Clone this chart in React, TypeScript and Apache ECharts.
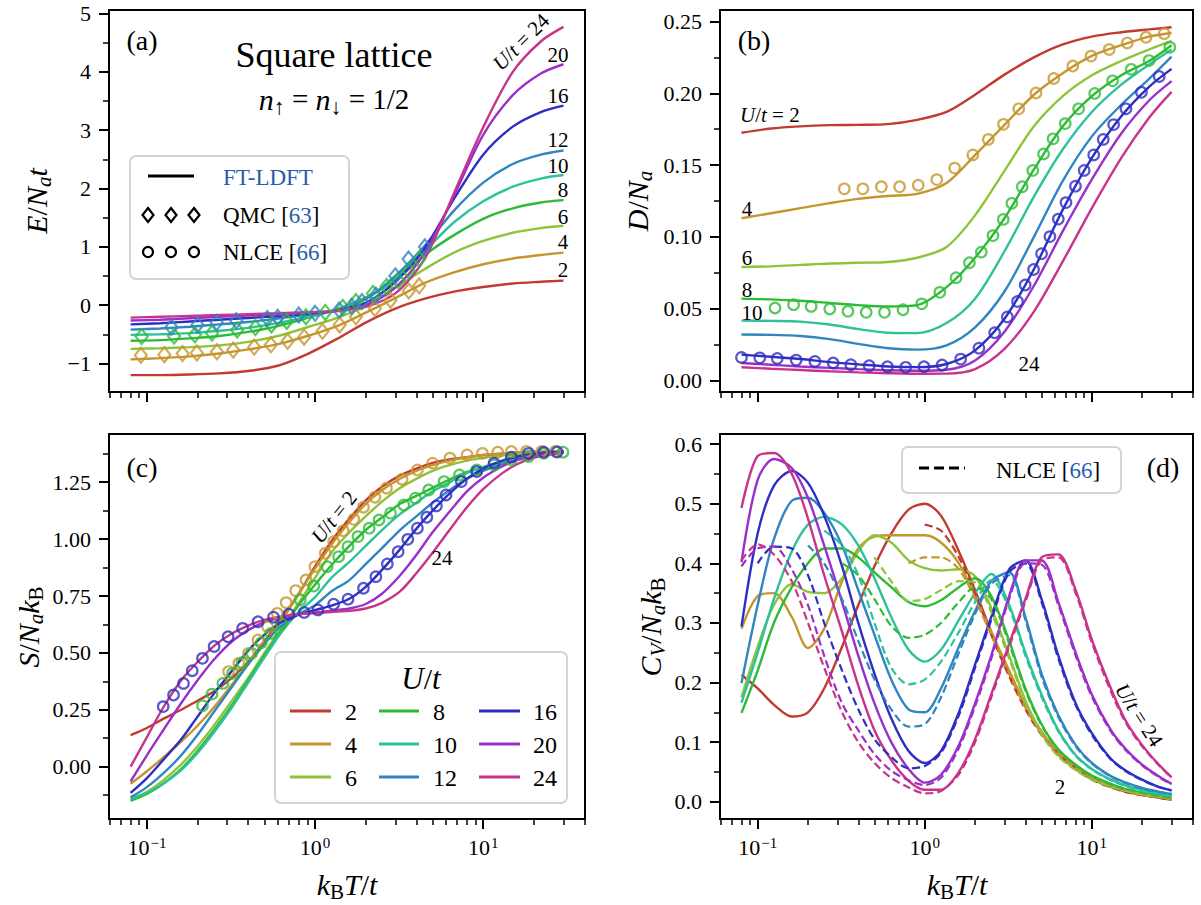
import React, { useEffect, useRef } from 'react';
import * as echarts from 'echarts';

const FONT = "'Liberation Serif', 'DejaVu Serif', serif";
const BLUE_TXT = '#2a5ca8';

// ---------- categories / colours ----------
const U_VALUES = [2, 4, 6, 8, 10, 12, 16, 20, 24];
const COLORS = ['#c23a30', '#c5962e', '#8dc43a', '#2dbb36', '#2dc29b', '#2f86c0', '#2e2ec2', '#9b30c8', '#c8348a'];

// ---------- temperature grids (k_B T / t) ----------
const T_AB = [0.08, 0.12, 0.18, 0.27, 0.4, 0.6, 0.9, 1.35, 2, 3, 4.5, 6.7, 10, 15, 22, 30];
const T_CD = [0.08, 0.1, 0.125, 0.16, 0.2, 0.25, 0.32, 0.4, 0.5, 0.63, 0.8, 1.0, 1.25, 1.6, 2.0, 2.5, 3.2, 4.0, 5.0, 6.3, 8.0, 10, 13, 16, 20, 25, 30];

// ---------- ticks ----------
const X_MAJOR_T = [0.1, 1, 10];
const X_MINOR_T = [0.06, 0.07, 0.08, 0.09, 0.2, 0.3, 0.4, 0.5, 0.6, 0.7, 0.8, 0.9, 2, 3, 4, 5, 6, 7, 8, 9, 20, 30, 40];
const X_RANGE_T = [0.0595, 40.3];
const YA_MAJOR = [-1, 0, 1, 2, 3, 4, 5];
const YA_MINOR = [-0.5, 0.5, 1.5, 2.5, 3.5, 4.5];
const YB_MAJOR = [0, 0.05, 0.1, 0.15, 0.2, 0.25];
const YB_MINOR = [0.025, 0.075, 0.125, 0.175, 0.225];
const YC_MAJOR = [0, 0.25, 0.5, 0.75, 1, 1.25];
const YC_MINOR = [-0.125, 0.125, 0.375, 0.625, 0.875, 1.125, 1.375];
const YD_MAJOR = [0, 0.1, 0.2, 0.3, 0.4, 0.5, 0.6];
const YD_MINOR = [0.05, 0.15, 0.25, 0.35, 0.45, 0.55];
const Y_RANGES = [[-1.49, 5.06], [-0.008, 0.258], [-0.23, 1.462], [-0.029, 0.617]];

// ---------- (a) energy, FT-LDFT ----------
const E_U2 = [-1.20, -1.20, -1.19, -1.17, -1.13, -1.04, -0.84, -0.58, -0.30, -0.06, 0.11, 0.23, 0.31, 0.37, 0.40, 0.42];
const E_U4 = [-0.93, -0.91, -0.88, -0.83, -0.76, -0.67, -0.53, -0.36, -0.13, 0.12, 0.38, 0.56, 0.70, 0.80, 0.86, 0.90];
const E_U6 = [-0.75, -0.74, -0.72, -0.69, -0.63, -0.53, -0.38, -0.22, -0.02, 0.30, 0.62, 0.90, 1.10, 1.24, 1.32, 1.36];
const E_U8 = [-0.61, -0.60, -0.57, -0.53, -0.46, -0.36, -0.22, -0.07, 0.13, 0.42, 0.86, 1.20, 1.48, 1.66, 1.76, 1.80];
const E_U10 = [-0.51, -0.50, -0.48, -0.44, -0.39, -0.31, -0.20, -0.08, 0.11, 0.46, 0.93, 1.42, 1.78, 2.03, 2.17, 2.23];
const E_U12 = [-0.42, -0.40, -0.37, -0.33, -0.29, -0.23, -0.165, -0.09, 0.10, 0.50, 1.02, 1.62, 2.10, 2.42, 2.58, 2.65];
const E_U16 = [-0.33, -0.31, -0.28, -0.25, -0.22, -0.19, -0.15, -0.09, 0.04, 0.40, 0.98, 1.82, 2.58, 3.06, 3.31, 3.42];
const E_U20 = [-0.265, -0.25, -0.225, -0.20, -0.18, -0.16, -0.13, -0.10, 0.0, 0.30, 0.90, 1.88, 2.92, 3.60, 3.97, 4.13];
const E_U24 = [-0.215, -0.20, -0.185, -0.17, -0.155, -0.14, -0.12, -0.10, -0.03, 0.20, 0.80, 1.92, 3.05, 4.00, 4.52, 4.77];
// (a) QMC [63]
const QMC_U4_T = [0.092, 0.127, 0.163, 0.198, 0.261, 0.326, 0.435, 0.546, 0.687, 0.861, 1.107, 1.40, 1.75, 2.27, 2.81, 3.61, 4.16];
const QMC_U4_E = [-0.86, -0.85, -0.83, -0.82, -0.80, -0.77, -0.72, -0.68, -0.62, -0.55, -0.45, -0.34, -0.20, -0.06, 0.085, 0.24, 0.33];
const QMC_U8_T = [0.093, 0.145, 0.193, 0.244, 0.344, 0.442, 0.551, 0.679, 0.883, 1.15, 1.46, 1.75, 2.21, 2.66, 3.12, 3.61, 4.16];
const QMC_U8_E = [-0.54, -0.53, -0.51, -0.48, -0.425, -0.385, -0.34, -0.28, -0.20, -0.125, -0.04, 0.06, 0.20, 0.32, 0.42, 0.59, 0.79];
const QMC_U12_T = [0.14, 0.2, 0.26, 0.34, 0.52, 0.6, 0.8, 1.0, 1.39, 1.65, 1.9, 2.3, 3.0, 3.6, 4.5];
const QMC_U12_E = [-0.38, -0.34, -0.30, -0.27, -0.23, -0.21, -0.17, -0.14, -0.085, -0.02, 0.06, 0.17, 0.50, 0.79, 1.0];

// ---------- (b) double occupancy ----------
const D_U2 = [0.1725, 0.1755, 0.177, 0.1778, 0.178, 0.1785, 0.1815, 0.187, 0.199, 0.213, 0.225, 0.234, 0.2395, 0.2425, 0.2445, 0.246];
const D_U4 = [0.113, 0.1165, 0.120, 0.1235, 0.1265, 0.1285, 0.130, 0.1375, 0.157, 0.178, 0.199, 0.214, 0.226, 0.2335, 0.2395, 0.242];
const D_U6 = [0.079, 0.0795, 0.0805, 0.0815, 0.082, 0.0825, 0.0855, 0.093, 0.115, 0.146, 0.177, 0.198, 0.2125, 0.2225, 0.2305, 0.2365];
const D_U8 = [0.057, 0.0565, 0.0555, 0.054, 0.0525, 0.0515, 0.0525, 0.065, 0.0855, 0.113, 0.147, 0.177, 0.198, 0.2125, 0.2225, 0.2335];
const D_U10 = [0.0417, 0.0415, 0.041, 0.039, 0.0358, 0.0333, 0.033, 0.040, 0.057, 0.090, 0.128, 0.161, 0.187, 0.206, 0.220, 0.2305];
const D_U12 = [0.032, 0.0318, 0.031, 0.0288, 0.0255, 0.0225, 0.0215, 0.0245, 0.037, 0.062, 0.100, 0.139, 0.170, 0.192, 0.210, 0.2255];
const D_U16 = [0.018, 0.0165, 0.015, 0.0128, 0.0112, 0.0098, 0.0093, 0.0115, 0.021, 0.043, 0.0775, 0.119, 0.155, 0.184, 0.2045, 0.217];
const D_U20 = [0.0122, 0.011, 0.0098, 0.0088, 0.0079, 0.0071, 0.0068, 0.0075, 0.014, 0.034, 0.066, 0.104, 0.140, 0.172, 0.195, 0.2085];
const D_U24 = [0.0092, 0.0082, 0.0073, 0.0064, 0.0057, 0.0051, 0.0047, 0.0048, 0.008, 0.022, 0.048, 0.083, 0.120, 0.155, 0.183, 0.201];
// (b) NLCE [66]
const NB_U4_T = [0.330, 0.426, 0.550, 0.707, 0.914, 1.18, 1.51, 1.94, 2.40, 2.96, 3.65, 4.63, 5.92, 7.69, 9.89, 12.7, 16.3, 21.1, 27.1];
const NB_U4_D = [0.1335, 0.1335, 0.1349, 0.1349, 0.136, 0.1399, 0.1479, 0.1571, 0.1679, 0.1784, 0.1892, 0.2002, 0.2103, 0.219, 0.2259, 0.2305, 0.2351, 0.239, 0.2415];
const NB_U8_T = [0.127, 0.164, 0.209, 0.270, 0.347, 0.446, 0.574, 0.741, 0.959, 1.23, 1.54, 1.85, 2.18, 2.56, 2.95, 3.32, 3.83, 4.43, 5.14, 5.86, 6.93, 8.33, 10.4, 13.3, 17.2, 22.0, 29.3];
const NB_U8_D = [0.0505, 0.0528, 0.0516, 0.0498, 0.0482, 0.0475, 0.0475, 0.0493, 0.0534, 0.0614, 0.0716, 0.082, 0.0894, 0.1009, 0.1122, 0.1234, 0.1349, 0.1463, 0.1578, 0.1683, 0.1789, 0.1892, 0.1999, 0.2087, 0.2167, 0.2228, 0.2320];
const NB_U16_T = [0.080, 0.103, 0.131, 0.170, 0.220, 0.283, 0.361, 0.465, 0.598, 0.769, 0.989, 1.27, 1.64, 2.11, 2.62, 3.12, 3.59, 3.99, 4.48, 5.00, 5.61, 6.30, 7.00, 7.98, 9.00, 10.26, 11.7, 13.5, 16.0, 19.8, 25.3];
const NB_U16_D = [0.0161, 0.0158, 0.0154, 0.0142, 0.0133, 0.0122, 0.0110, 0.0103, 0.0096, 0.0092, 0.0096, 0.0108, 0.0149, 0.0225, 0.0333, 0.0443, 0.0550, 0.0665, 0.0773, 0.0883, 0.1002, 0.1124, 0.1239, 0.1353, 0.1463, 0.1571, 0.1679, 0.1782, 0.1892, 0.2007, 0.2117];

// ---------- (c) entropy ----------
const S_U2 = [0.139, 0.17, 0.21, 0.25, 0.29, 0.33, 0.39, 0.46, 0.55, 0.65, 0.76, 0.88, 0.99, 1.09, 1.17, 1.23, 1.28, 1.31, 1.335, 1.35, 1.36, 1.37, 1.375, 1.38, 1.383, 1.385, 1.386];
const S_U4 = [-0.075, -0.02, 0.04, 0.11, 0.18, 0.26, 0.36, 0.45, 0.54, 0.64, 0.76, 0.87, 0.975, 1.075, 1.155, 1.215, 1.265, 1.30, 1.325, 1.345, 1.36, 1.37, 1.377, 1.381, 1.384, 1.386, 1.386];
const S_U6 = [-0.145, -0.11, -0.06, 0.01, 0.09, 0.18, 0.29, 0.39, 0.50, 0.61, 0.72, 0.83, 0.94, 1.03, 1.10, 1.165, 1.225, 1.265, 1.30, 1.325, 1.345, 1.357, 1.367, 1.374, 1.379, 1.383, 1.386];
const S_U8 = [-0.15, -0.12, -0.075, -0.01, 0.07, 0.16, 0.27, 0.38, 0.49, 0.60, 0.71, 0.80, 0.885, 0.97, 1.04, 1.095, 1.155, 1.19, 1.225, 1.262, 1.295, 1.315, 1.338, 1.355, 1.368, 1.378, 1.384];
const S_U10 = [-0.14, -0.115, -0.075, -0.015, 0.06, 0.15, 0.26, 0.37, 0.48, 0.59, 0.68, 0.745, 0.83, 0.90, 0.97, 1.04, 1.11, 1.16, 1.21, 1.25, 1.29, 1.318, 1.342, 1.356, 1.367, 1.376, 1.382];
const S_U12 = [-0.135, -0.09, -0.03, 0.05, 0.14, 0.24, 0.35, 0.45, 0.54, 0.62, 0.67, 0.71, 0.77, 0.82, 0.89, 0.96, 1.04, 1.10, 1.16, 1.215, 1.265, 1.30, 1.33, 1.348, 1.362, 1.373, 1.380];
const S_U16 = [-0.115, -0.05, 0.03, 0.12, 0.22, 0.32, 0.42, 0.51, 0.58, 0.635, 0.668, 0.688, 0.708, 0.738, 0.79, 0.865, 0.955, 1.045, 1.125, 1.20, 1.265, 1.31, 1.345, 1.363, 1.375, 1.381, 1.384];
const S_U20 = [-0.065, 0.05, 0.16, 0.28, 0.38, 0.47, 0.55, 0.60, 0.635, 0.655, 0.67, 0.678, 0.685, 0.695, 0.715, 0.76, 0.84, 0.93, 1.03, 1.12, 1.21, 1.27, 1.32, 1.35, 1.365, 1.377, 1.383];
const S_U24 = [0.0, 0.13, 0.26, 0.38, 0.46, 0.53, 0.585, 0.62, 0.645, 0.66, 0.67, 0.675, 0.68, 0.685, 0.695, 0.72, 0.77, 0.85, 0.94, 1.04, 1.14, 1.22, 1.29, 1.33, 1.357, 1.372, 1.38];
// (c) NLCE [66]
const NC_U4_T = [0.306, 0.352, 0.402, 0.458, 0.522, 0.596, 0.673, 0.767, 0.884, 0.998, 1.15, 1.29, 1.47, 1.70, 1.94, 2.27, 2.66, 3.29, 4.06, 5.00, 6.34, 8.02, 9.89, 12.2, 14.7, 18.1, 22.3, 26.9];
const NC_U4_S = [0.418, 0.454, 0.498, 0.557, 0.615, 0.674, 0.721, 0.774, 0.821, 0.879, 0.938, 0.989, 1.037, 1.087, 1.140, 1.184, 1.224, 1.263, 1.304, 1.334, 1.356, 1.370, 1.377, 1.382, 1.385, 1.386, 1.386, 1.386];
const NC_U8_T = [0.214, 0.244, 0.283, 0.323, 0.368, 0.420, 0.479, 0.546, 0.629, 0.817, 0.982, 1.18, 1.38, 1.57, 1.80, 2.10, 2.40, 2.81, 3.37, 3.95, 4.74, 5.85, 7.22, 9.15, 11.6, 14.7, 18.6, 22.9, 29.8];
const NC_U8_S = [0.268, 0.319, 0.366, 0.410, 0.457, 0.498, 0.545, 0.586, 0.630, 0.733, 0.794, 0.879, 0.923, 0.967, 1.011, 1.048, 1.084, 1.114, 1.150, 1.180, 1.216, 1.253, 1.282, 1.304, 1.326, 1.348, 1.363, 1.377, 1.382];
const NC_U16_T = [0.125, 0.144, 0.165, 0.186, 0.214, 0.251, 0.304, 0.371, 0.458, 0.566, 0.698, 0.861, 1.04, 1.29, 1.57, 1.94, 2.30, 2.69, 3.12, 3.56, 4.06, 4.62, 5.27, 6.01, 7.41, 9.15, 11.6, 14.7, 18.6, 22.9, 27.5];
const NC_U16_S = [0.264, 0.315, 0.366, 0.422, 0.476, 0.528, 0.571, 0.608, 0.637, 0.657, 0.670, 0.678, 0.689, 0.714, 0.736, 0.784, 0.835, 0.891, 0.945, 0.999, 1.048, 1.096, 1.146, 1.194, 1.253, 1.297, 1.334, 1.360, 1.377, 1.382, 1.383];

// ---------- (d) specific heat, FT-LDFT ----------
const C_U2 = [0.213, 0.19, 0.163, 0.143, 0.15, 0.19, 0.26, 0.33, 0.395, 0.45, 0.49, 0.50, 0.48, 0.42, 0.355, 0.285, 0.215, 0.16, 0.115, 0.082, 0.058, 0.038, 0.025, 0.017, 0.011, 0.007, 0.003];
const C_U4 = [0.29, 0.345, 0.35, 0.31, 0.258, 0.29, 0.37, 0.425, 0.445, 0.447, 0.447, 0.447, 0.435, 0.40, 0.345, 0.285, 0.22, 0.162, 0.118, 0.083, 0.058, 0.04, 0.026, 0.018, 0.012, 0.008, 0.004];
const C_U6 = [0.175, 0.26, 0.33, 0.365, 0.352, 0.35, 0.375, 0.42, 0.447, 0.435, 0.405, 0.392, 0.388, 0.39, 0.378, 0.325, 0.245, 0.17, 0.115, 0.078, 0.054, 0.038, 0.026, 0.019, 0.013, 0.008, 0.005];
const C_U8 = [0.149, 0.22, 0.30, 0.36, 0.40, 0.425, 0.425, 0.41, 0.385, 0.36, 0.335, 0.328, 0.338, 0.36, 0.375, 0.345, 0.27, 0.19, 0.13, 0.088, 0.062, 0.044, 0.03, 0.021, 0.015, 0.01, 0.007];
const C_U10 = [0.166, 0.25, 0.34, 0.42, 0.465, 0.478, 0.465, 0.43, 0.375, 0.31, 0.255, 0.235, 0.255, 0.305, 0.35, 0.382, 0.33, 0.25, 0.18, 0.12, 0.078, 0.055, 0.037, 0.027, 0.019, 0.013, 0.010];
const C_U12 = [0.199, 0.33, 0.44, 0.505, 0.51, 0.485, 0.43, 0.355, 0.28, 0.205, 0.155, 0.15, 0.19, 0.26, 0.32, 0.37, 0.385, 0.31, 0.215, 0.145, 0.095, 0.065, 0.043, 0.032, 0.023, 0.017, 0.013];
const C_U16 = [0.294, 0.45, 0.53, 0.555, 0.535, 0.48, 0.395, 0.30, 0.215, 0.14, 0.085, 0.065, 0.085, 0.15, 0.23, 0.31, 0.39, 0.405, 0.34, 0.245, 0.165, 0.115, 0.072, 0.052, 0.037, 0.025, 0.019];
const C_U20 = [0.402, 0.54, 0.575, 0.56, 0.51, 0.43, 0.335, 0.245, 0.165, 0.10, 0.055, 0.032, 0.045, 0.095, 0.165, 0.245, 0.345, 0.405, 0.405, 0.335, 0.25, 0.18, 0.12, 0.088, 0.062, 0.043, 0.030];
const C_U24 = [0.493, 0.58, 0.585, 0.55, 0.475, 0.38, 0.285, 0.195, 0.12, 0.07, 0.035, 0.02, 0.02, 0.05, 0.105, 0.18, 0.265, 0.34, 0.41, 0.415, 0.355, 0.272, 0.19, 0.135, 0.095, 0.063, 0.041];
// (d) NLCE [66] (null: no data)
const N_U2 = [null, null, null, null, null, null, null, null, null, null, null, 0.465, 0.455, 0.41, 0.35, 0.28, 0.21, 0.155, 0.112, 0.08, 0.056, 0.037, 0.024, 0.016, 0.011, 0.007, 0.003];
const N_U4 = [null, null, null, null, null, null, null, null, null, null, 0.40, 0.41, 0.41, 0.39, 0.34, 0.28, 0.215, 0.158, 0.115, 0.081, 0.057, 0.039, 0.026, 0.018, 0.012, 0.008, 0.004];
const N_U6 = [null, null, null, null, null, null, null, null, 0.41, 0.37, 0.337, 0.34, 0.355, 0.37, 0.368, 0.318, 0.24, 0.167, 0.113, 0.076, 0.053, 0.037, 0.025, 0.018, 0.012, 0.008, 0.005];
const N_U8 = [null, null, null, null, null, null, 0.40, 0.38, 0.34, 0.295, 0.275, 0.28, 0.30, 0.335, 0.36, 0.34, 0.265, 0.187, 0.128, 0.087, 0.061, 0.043, 0.029, 0.021, 0.015, 0.010, 0.007];
const N_U10 = [null, null, null, null, null, 0.455, 0.43, 0.38, 0.30, 0.225, 0.197, 0.205, 0.235, 0.285, 0.335, 0.372, 0.325, 0.245, 0.176, 0.118, 0.077, 0.054, 0.036, 0.026, 0.018, 0.013, 0.010];
const N_U12 = [null, null, null, null, 0.43, 0.40, 0.34, 0.27, 0.205, 0.155, 0.126, 0.13, 0.175, 0.25, 0.315, 0.365, 0.38, 0.305, 0.21, 0.142, 0.093, 0.064, 0.042, 0.031, 0.022, 0.016, 0.013];
const N_U16 = [null, 0.40, 0.428, 0.425, 0.38, 0.30, 0.22, 0.155, 0.105, 0.075, 0.056, 0.06, 0.082, 0.145, 0.225, 0.305, 0.385, 0.40, 0.335, 0.24, 0.162, 0.112, 0.071, 0.051, 0.036, 0.025, 0.019];
const N_U20 = [0.395, 0.425, 0.428, 0.39, 0.33, 0.245, 0.165, 0.12, 0.08, 0.052, 0.036, 0.028, 0.04, 0.09, 0.16, 0.24, 0.34, 0.4, 0.398, 0.33, 0.245, 0.176, 0.118, 0.086, 0.061, 0.042, 0.029];
const N_U24 = [0.405, 0.432, 0.415, 0.37, 0.30, 0.225, 0.15, 0.10, 0.065, 0.04, 0.024, 0.014, 0.018, 0.046, 0.10, 0.175, 0.26, 0.335, 0.405, 0.41, 0.35, 0.267, 0.185, 0.132, 0.093, 0.062, 0.040];

const E_ALL = [E_U2, E_U4, E_U6, E_U8, E_U10, E_U12, E_U16, E_U20, E_U24];
const D_ALL = [D_U2, D_U4, D_U6, D_U8, D_U10, D_U12, D_U16, D_U20, D_U24];
const S_ALL = [S_U2, S_U4, S_U6, S_U8, S_U10, S_U12, S_U16, S_U20, S_U24];
const C_ALL = [C_U2, C_U4, C_U6, C_U8, C_U10, C_U12, C_U16, C_U20, C_U24];
const N_ALL = [N_U2, N_U4, N_U6, N_U8, N_U10, N_U12, N_U16, N_U20, N_U24];

// ---------- layout ----------
const GRIDS = [
  { left: 109, top: 10, width: 476, height: 382 },
  { left: 720, top: 10, width: 473, height: 382 },
  { left: 109, top: 434, width: 476, height: 385 },
  { left: 720, top: 434, width: 473, height: 385 },
];

const lg = (v: number) => Math.log10(v);
const minus = (v: number) => (v < 0 ? '\u2212' + Math.abs(v) : String(v));

function pts(T: number[], Y: (number | null)[]) {
  const out: number[][] = [];
  T.forEach((t, i) => {
    const y = Y[i];
    if (y !== null && y !== undefined) out.push([lg(t), y]);
  });
  return out;
}

function lineSeries(gi: number, T: number[], Y: (number | null)[], color: string, dashed = false) {
  return {
    type: 'line',
    xAxisIndex: gi * 2,
    yAxisIndex: gi * 2,
    data: pts(T, Y),
    showSymbol: false,
    symbol: 'none',
    smooth: 0.3,
    silent: true,
    z: dashed ? 3 : 2,
    lineStyle: { color, width: dashed ? 2.2 : 2.4, type: dashed ? [8, 4] : 'solid', cap: 'butt' },
  };
}

function markerSeries(gi: number, T: number[], Y: number[], color: string, symbol: string) {
  return {
    type: 'scatter',
    xAxisIndex: gi * 2,
    yAxisIndex: gi * 2,
    data: pts(T, Y),
    symbol,
    symbolSize: symbol === 'diamond' ? [12, 15] : 10.5,
    silent: true,
    z: 4,
    itemStyle: { color: 'rgba(255,255,255,0)', borderColor: color, borderWidth: 2.2 },
  };
}

const X_MAJOR = X_MAJOR_T.map(lg);
const X_MINOR = X_MINOR_T.map(lg);

function xAxes(gi: number, showLabels: boolean) {
  const base = {
    type: 'value',
    gridIndex: gi,
    min: lg(X_RANGE_T[0]),
    max: lg(X_RANGE_T[1]),
    position: 'bottom',
    axisLine: { show: false, onZero: false },
    splitLine: { show: false },
  };
  return [
    {
      ...base,
      axisTick: { show: true, customValues: X_MAJOR, length: 10, lineStyle: { color: '#000', width: 2 } },
      axisLabel: {
        show: showLabels,
        customValues: X_MAJOR,
        margin: 16,
        color: '#000',
        fontFamily: FONT,
        fontSize: 22,
        formatter: (v: number) => `{b|10}{s|${minus(Math.round(v))}}`,
        rich: {
          b: { fontFamily: FONT, fontSize: 22, color: '#000' },
          s: { fontFamily: FONT, fontSize: 15, color: '#000', verticalAlign: 'top', padding: [0, 0, 9, 1] },
        },
      },
    },
    {
      ...base,
      axisLabel: { show: false },
      axisTick: { show: true, customValues: X_MINOR, length: 6, lineStyle: { color: '#000', width: 1.5 } },
    },
  ];
}

function yAxes(gi: number, major: number[], minor: number[], fmt: (v: number) => string) {
  const base = {
    type: 'value',
    gridIndex: gi,
    min: Y_RANGES[gi][0],
    max: Y_RANGES[gi][1],
    position: 'left',
    axisLine: { show: false, onZero: false },
    splitLine: { show: false },
  };
  return [
    {
      ...base,
      axisTick: { show: true, customValues: major, length: 10, lineStyle: { color: '#000', width: 2 } },
      axisLabel: { show: true, customValues: major, margin: 18, color: '#000', fontFamily: FONT, fontSize: 22, lineHeight: 18, formatter: fmt },
    },
    {
      ...base,
      axisLabel: { show: false },
      axisTick: { show: true, customValues: minor, length: 6, lineStyle: { color: '#000', width: 1.5 } },
    },
  ];
}

// ---------- text helpers ----------
const R_IN = {
  i: { fontFamily: FONT, fontStyle: 'italic', fontSize: 21, fill: '#000' },
};
const R_TITLE = {
  i: { fontFamily: FONT, fontStyle: 'italic', fontSize: 30, fill: '#000' },
  si: { fontFamily: FONT, fontStyle: 'italic', fontSize: 21, fill: '#000', verticalAlign: 'bottom', padding: [15, 0, 0, 0] },
  sr: { fontFamily: FONT, fontSize: 21, fill: '#000', verticalAlign: 'bottom', padding: [15, 0, 0, 0] },
};
const R_LEG = {
  b: { fontFamily: FONT, fontSize: 23, fill: BLUE_TXT, color: BLUE_TXT },
};

function txt(x: number, y: number, text: string, o: any = {}) {
  return {
    type: 'text',
    x,
    y,
    rotation: o.rot || 0,
    silent: true,
    z: 100,
    style: {
      text,
      fontFamily: FONT,
      fontSize: o.size || 21,
      fontStyle: o.italic ? 'italic' : 'normal',
      fill: o.fill || '#000',
      align: o.align || 'center',
      verticalAlign: 'middle',
      rich: o.rich,
    },
  };
}

function diamond(cx: number, cy: number) {
  return {
    type: 'polygon',
    silent: true,
    z: 100,
    shape: { points: [[cx, cy - 7], [cx + 5.5, cy], [cx, cy + 7], [cx - 5.5, cy]] },
    style: { fill: 'none', stroke: '#000', lineWidth: 2.2 },
  };
}
function ring(cx: number, cy: number) {
  return { type: 'circle', silent: true, z: 100, shape: { cx, cy, r: 5 }, style: { fill: 'none', stroke: '#000', lineWidth: 2.2 } };
}
function seg(x1: number, x2: number, y: number, color: string, dash?: number[]) {
  return {
    type: 'line',
    silent: true,
    z: 100,
    shape: { x1, y1: y, x2, y2: y },
    style: { stroke: color, lineWidth: 3, lineDash: dash || null },
  };
}
function box(x: number, y: number, w: number, h: number) {
  return {
    type: 'rect',
    silent: true,
    z: 90,
    shape: { x, y, width: w, height: h, r: 6 },
    style: { fill: 'rgba(255,255,255,0.85)', stroke: '#d3d3d3', lineWidth: 2 },
  };
}

function buildOption() {
  const series: any[] = [];
  U_VALUES.forEach((_, k) => series.push(lineSeries(0, T_AB, E_ALL[k], COLORS[k])));
  series.push(markerSeries(0, QMC_U4_T, QMC_U4_E, COLORS[1], 'diamond'));
  series.push(markerSeries(0, QMC_U8_T, QMC_U8_E, COLORS[3], 'diamond'));
  series.push(markerSeries(0, QMC_U12_T, QMC_U12_E, COLORS[5], 'diamond'));

  U_VALUES.forEach((_, k) => series.push(lineSeries(1, T_AB, D_ALL[k], COLORS[k])));
  series.push(markerSeries(1, NB_U4_T, NB_U4_D, COLORS[1], 'circle'));
  series.push(markerSeries(1, NB_U8_T, NB_U8_D, COLORS[3], 'circle'));
  series.push(markerSeries(1, NB_U16_T, NB_U16_D, COLORS[6], 'circle'));

  U_VALUES.forEach((_, k) => series.push(lineSeries(2, T_CD, S_ALL[k], COLORS[k])));
  series.push(markerSeries(2, NC_U4_T, NC_U4_S, COLORS[1], 'circle'));
  series.push(markerSeries(2, NC_U8_T, NC_U8_S, COLORS[3], 'circle'));
  series.push(markerSeries(2, NC_U16_T, NC_U16_S, COLORS[6], 'circle'));

  U_VALUES.forEach((_, k) => series.push(lineSeries(3, T_CD, C_ALL[k], COLORS[k])));
  U_VALUES.forEach((_, k) => series.push(lineSeries(3, T_CD, N_ALL[k], COLORS[k], true)));

  const graphic: any[] = [
    // panel (a)
    txt(142, 40, '(a)', { size: 28 }),
    txt(334, 55, 'Square lattice', { size: 36 }),
    txt(334, 99, '{i|n}{s|\u2191} = {i|n}{s|\u2193} = 1/2', {
      size: 29,
      rich: {
        i: { fontFamily: FONT, fontStyle: 'italic', fontSize: 30, fill: '#000' },
        s: { fontFamily: FONT, fontSize: 22, fill: '#000', verticalAlign: 'bottom', padding: [14, 0, 0, 0] },
      },
    }),
    txt(521, 42, '{i|U}/{i|t} = 24', { size: 21, rot: Math.PI / 4, rich: R_IN }),
    txt(558, 55, '20'), txt(558, 96, '16'), txt(558, 140, '12'), txt(558, 166, '10'),
    txt(563, 190, '8'), txt(563, 217, '6'), txt(563, 242, '4'), txt(563, 270, '2'),
    box(130, 156, 219, 123),
    seg(148, 194, 176, '#000'),
    txt(223, 177, 'FT-LDFT', { align: 'left', size: 23, fill: BLUE_TXT }),
    diamond(148, 215), diamond(171, 215), diamond(194, 215),
    txt(223, 215, 'QMC [{b|63}]', { align: 'left', size: 23, rich: R_LEG }),
    ring(148, 252), ring(171, 252), ring(194, 252),
    txt(223, 252, 'NLCE [{b|66}]', { align: 'left', size: 23, rich: R_LEG }),
    txt(36, 201, '{i|E}/{i|N}{si|a}{i|t}', { size: 30, rot: Math.PI / 2, rich: R_TITLE }),

    // panel (b)
    txt(754, 40, '(b)', { size: 28 }),
    txt(740, 115, '{i|U}/{i|t} = 2', { align: 'left', size: 21, rich: R_IN }),
    txt(747, 209, '4'), txt(747, 258, '6'), txt(747, 290, '8'), txt(752, 313, '10'), txt(1029, 364, '24'),
    txt(637, 201, '{i|D}/{i|N}{si|a}', { size: 30, rot: Math.PI / 2, rich: R_TITLE }),

    // panel (c)
    txt(142, 467, '(c)', { size: 28 }),
    txt(334, 517, '{i|U}/{i|t} = 2', { size: 21, rot: 0.9, rich: R_IN }),
    txt(442, 558, '24'),
    txt(28, 627, '{i|S}/{i|N}{si|a}{i|k}{sr|B}', { size: 30, rot: Math.PI / 2, rich: R_TITLE }),
    txt(347, 884, '{i|k}{sr|B}{i|T}/{i|t}', { size: 30, rich: R_TITLE }),
    box(275, 652, 292, 151),
    txt(421, 678, '{i|U}/{i|t}', { size: 30, rich: { i: { fontFamily: FONT, fontStyle: 'italic', fontSize: 31, fill: '#000' } } }),

    // panel (d)
    txt(1163, 467, '(d)', { size: 28 }),
    box(902, 447, 219, 46),
    seg(919, 965, 468, '#000', [10, 5]),
    txt(996, 470, 'NLCE [{b|66}]', { align: 'left', size: 23, rich: R_LEG }),
    txt(1139, 715, '{i|U}/{i|t} = 24', { size: 21, rot: -1.0, rich: R_IN }),
    txt(1060, 787, '2'),
    txt(650, 627, '{i|C}{si|V}/{i|N}{si|a}{i|k}{sr|B}', { size: 30, rot: Math.PI / 2, rich: R_TITLE }),
    txt(957, 884, '{i|k}{sr|B}{i|T}/{i|t}', { size: 30, rich: R_TITLE }),
  ];

  // legend of (c): colour key for U/t
  const colX = [[290, 331, 345], [379, 419, 433], [479, 520, 533]];
  const rowY = [711, 744, 777];
  U_VALUES.forEach((u, k) => {
    const c = Math.floor(k / 3);
    const r = k % 3;
    graphic.push(seg(colX[c][0], colX[c][1], rowY[r], COLORS[k]));
    graphic.push(txt(colX[c][2], rowY[r] + 1, String(u), { align: 'left', size: 24 }));
  });

  return {
    animation: false,
    backgroundColor: '#fff',
    textStyle: { fontFamily: FONT },
    grid: GRIDS.map((g) => ({ ...g, show: true, borderColor: '#000', borderWidth: 2, backgroundColor: 'transparent', containLabel: false, outerBoundsMode: 'none' })),
    xAxis: [...xAxes(0, false), ...xAxes(1, false), ...xAxes(2, true), ...xAxes(3, true)],
    yAxis: [
      ...yAxes(0, YA_MAJOR, YA_MINOR, minus),
      ...yAxes(1, YB_MAJOR, YB_MINOR, (v: number) => v.toFixed(2)),
      ...yAxes(2, YC_MAJOR, YC_MINOR, (v: number) => v.toFixed(2)),
      ...yAxes(3, YD_MAJOR, YD_MINOR, (v: number) => v.toFixed(1)),
    ],
    series,
    graphic,
  };
}

export default function App() {
  const ref = useRef<HTMLDivElement>(null);
  useEffect(() => {
    if (!ref.current) return;
    const chart = echarts.init(ref.current, null, { renderer: 'svg' });
    chart.setOption(buildOption() as any);
    return () => chart.dispose();
  }, []);
  return (
    <div
      ref={ref}
      style={{ position: 'absolute', left: 0, top: 0, width: 1201, height: 905, background: '#fff' }}
    />
  );
}
